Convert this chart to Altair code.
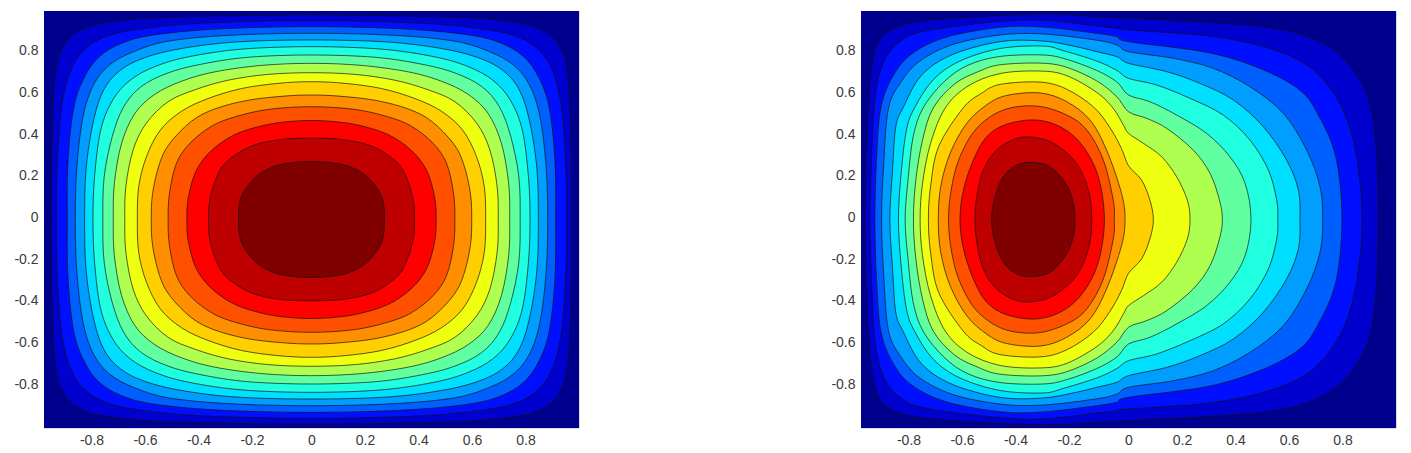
import altair as alt
import pandas as pd

# jet colours, band just inside contour k (innermost first); background is the lowest band
band_colors = ["#800000", "#bf0000", "#ff0000", "#ff5000", "#ff8f00", "#ffcf00", "#efff10",
               "#afff50", "#60ff9f", "#20ffdf", "#00dfff", "#009fff", "#0060ff", "#0010ff", "#0000cf"]
background_color = "#00008f"
tick_values = [-0.8, -0.6, -0.4, -0.2, 0, 0.2, 0.4, 0.6, 0.8]
plot_extent = [{"x": -1, "x2": 1, "y": -1, "y2": 1}]

# left panel: one quadrant of every contour (x, y), innermost first
left_quadrants = [
    [(.273,0),(.262,.11),(.208,.205),(.137,.256),(.062,.274),(0,.278)],
    [(.385,0),(.378,.109),(.342,.237),(.287,.308),(.212,.358),(.112,.384),(0,.39)],
    [(.466,0),(.46,.109),(.43,.237),(.372,.333),(.287,.407),(.187,.449),(.1,.468),(0,.475)],
    [(.536,0),(.531,.125),(.505,.269),(.455,.365),(.374,.447),(.287,.492),(.162,.528),(0,.541)],
    [(.599,0),(.594,.125),(.568,.269),(.53,.365),(.449,.471),(.362,.53),(.237,.572),(.1,.592),(0,.597)],
    [(.651,0),(.646,.157),(.617,.301),(.565,.429),(.486,.519),(.387,.58),(.262,.628),(.125,.653),(0,.661)],
    [(.698,0),(.694,.157),(.667,.333),(.618,.461),(.536,.565),(.436,.622),(.312,.668),(.162,.696),(0,.704)],
    [(.741,0),(.737,.173),(.71,.365),(.66,.509),(.586,.6),(.486,.663),(.362,.708),(.187,.739),(0,.749)],
    [(.78,0),(.775,.205),(.745,.397),(.702,.541),(.636,.638),(.536,.703),(.411,.745),(.237,.778),(0,.789)],
    [(.817,0),(.811,.205),(.788,.429),(.743,.573),(.678,.668),(.586,.733),(.461,.78),(.262,.817),(0,.829)],
    [(.848,0),(.843,.237),(.817,.461),(.78,.613),(.723,.707),(.636,.77),(.499,.817),(.287,.851),(0,.861)],
    [(.883,0),(.877,.253),(.854,.493),(.815,.645),(.755,.741),(.665,.805),(.536,.855),(.312,.883),(0,.893)],
    [(.913,0),(.91,.285),(.888,.541),(.848,.685),(.793,.781),(.71,.845),(.59,.885),(.349,.914),(0,.925)],
    [(.954,0),(.949,.301),(.93,.573),(.893,.735),(.835,.83),(.75,.885),(.63,.915),(.411,.941),(0,.954)],
    [(.973,0),(.969,.413),(.955,.72),(.92,.845),(.86,.91),(.76,.945),(.536,.97),(0,.981)],
]

# right panel: upper half of every contour, from left to right (x, y), innermost first
right_upper = [
    [(-.512,0),(-.499,.109),(-.468,.205),(-.418,.261),(-.356,.274),(-.293,.253),(-.244,.189),(-.212,.109),(-.2,0)],
    [(-.574,0),(-.567,.109),(-.543,.237),(-.493,.333),(-.418,.389),(-.343,.392),(-.269,.357),(-.194,.269),(-.15,.141),(-.137,0)],
    [(-.63,0),(-.617,.141),(-.58,.285),(-.53,.397),(-.455,.457),(-.343,.477),(-.244,.437),(-.169,.349),(-.113,.205),(-.09,0)],
    [(-.673,0),(-.661,.157),(-.63,.301),(-.568,.437),(-.468,.525),(-.343,.544),(-.231,.501),(-.156,.429),(-.094,.285),(-.057,.093),(-.053,0)],
    [(-.711,0),(-.702,.157),(-.667,.317),(-.605,.461),(-.53,.55),(-.455,.595),(-.33,.607),(-.231,.565),(-.144,.477),(-.082,.333),(-.026,.125),(-.013,0)],
    [(-.748,0),(-.74,.157),(-.71,.349),(-.618,.535),(-.55,.605),(-.48,.648),(-.33,.659),(-.231,.625),(-.131,.54),(-.069,.44),(-.026,.34),(0,.258),(.049,.189),(.08,.093),(.093,0)],
    [(-.779,0),(-.77,.173),(-.74,.365),(-.685,.535),(-.6,.64),(-.48,.7),(-.33,.712),(-.231,.69),(-.119,.61),(-.057,.533),(-.019,.453),(0,.413),(.056,.365),(.124,.301),(.18,.205),(.22,.093),(.23,0)],
    [(-.804,0),(-.795,.189),(-.77,.381),(-.73,.535),(-.65,.65),(-.56,.71),(-.48,.742),(-.33,.75),(-.231,.73),(-.119,.665),(-.044,.589),(0,.517),(.068,.485),(.143,.437),(.242,.333),(.305,.221),(.34,.093),(.351,0)],
    [(-.835,0),(-.823,.205),(-.805,.397),(-.768,.535),(-.69,.66),(-.6,.74),(-.48,.782),(-.32,.789),(-.231,.768),(-.119,.715),(-.044,.66),(0,.597),(.08,.565),(.18,.501),(.292,.413),(.379,.301),(.436,.173),(.458,0)],
    [(-.86,0),(-.85,.221),(-.83,.429),(-.8,.535),(-.73,.67),(-.63,.76),(-.48,.82),(-.32,.832),(-.244,.81),(-.119,.76),(-.044,.715),(0,.677),(.105,.645),(.23,.581),(.354,.501),(.454,.381),(.523,.237),(.554,.093),(.558,0)],
    [(-.892,0),(-.882,.237),(-.87,.445),(-.843,.535),(-.775,.69),(-.66,.79),(-.48,.853),(-.32,.856),(-.2,.83),(-.119,.805),(-.044,.781),(0,.749),(.143,.709),(.267,.653),(.392,.573),(.504,.445),(.591,.285),(.635,.141),(.641,0)],
    [(-.923,0),(-.915,.269),(-.897,.535),(-.85,.66),(-.78,.76),(-.655,.84),(-.48,.885),(-.32,.89),(-.119,.86),(-.044,.837),(0,.805),(.168,.773),(.317,.725),(.454,.637),(.579,.509),(.666,.333),(.716,.157),(.726,0)],
    [(-.948,0),(-.942,.285),(-.925,.541),(-.875,.7),(-.804,.8),(-.68,.875),(-.48,.922),(-.32,.923),(-.119,.893),(-.044,.877),(0,.853),(.3,.80),(.5,.72),(.641,.62),(.71,.5),(.775,.3),(.798,0)],
    [(-.966,0),(-.96,.301),(-.948,.573),(-.917,.749),(-.854,.853),(-.755,.905),(-.48,.95),(-.306,.955),(-.119,.928),(-.044,.917),(0,.909),(.3,.88),(.5,.83),(.641,.76),(.735,.66),(.81,.5),(.855,.28),(.873,0)],
    [(-.985,0),(-.979,.333),(-.966,.653),(-.941,.83),(-.892,.905),(-.779,.95),(-.53,.975),(-.3,.985),(-.119,.973),(0,.965),(.3,.945),(.5,.925),(.641,.89),(.76,.82),(.85,.7),(.905,.54),(.928,.3),(.933,0)],
]


def ring_from_quadrant(q):
    q1 = list(q)
    q2 = [(-x, y) for x, y in reversed(q1)][1:]
    q3 = [(-x, -y) for x, y in q1][1:]
    q4 = [(x, -y) for x, y in reversed(q1)][1:-1]
    return q1 + q2 + q3 + q4


def ring_from_upper(u):
    return list(u) + [(x, -y) for x, y in reversed(u)][1:-1]


x_axis = alt.Axis(values=tick_values, labelExpr="'' + datum.value", title=None, domain=False,
                  ticks=False, grid=False, labelFont="Liberation Sans", labelFontSize=14,
                  labelColor="#3a3a3a", labelPadding=5, labelFlush=False, labelOverlap=False,
                  labelOffset={"condition": {"test": "datum.value < 0", "value": -6}, "value": 0})
y_axis = alt.Axis(values=tick_values, labelExpr="'' + datum.value", title=None, domain=False,
                  ticks=False, grid=False, labelFont="Liberation Sans", labelFontSize=14,
                  labelColor="#3a3a3a", labelPadding=6, labelFlush=False, labelOverlap=False,
                  labelOffset=-2, minExtent=35, maxExtent=35)

x_scale = alt.Scale(domain=[-1, 1], nice=False, zero=False)
y_scale = alt.Scale(domain=[-1, 1], nice=False, zero=False)


def panel(rings):
    backdrop = (
        alt.Chart(alt.Data(values=plot_extent))
        .mark_rect(color=background_color)
        .encode(
            x=alt.X("x:Q", scale=x_scale, axis=x_axis),
            x2="x2:Q",
            y=alt.Y("y:Q", scale=y_scale, axis=y_axis),
            y2="y2:Q",
        )
    )
    layers = [backdrop]
    for k in range(len(rings) - 1, -1, -1):
        df = pd.DataFrame(rings[k], columns=["x", "y"])
        df["i"] = range(len(df))
        layers.append(
            alt.Chart(df)
            .mark_line(interpolate="cardinal-closed", fill=band_colors[k], stroke="#101010",
                       strokeWidth=0.8, strokeOpacity=0.85, clip=True)
            .encode(
                x=alt.X("x:Q", scale=x_scale, axis=x_axis),
                y=alt.Y("y:Q", scale=y_scale, axis=y_axis),
                order=alt.Order("i:Q"),
            )
        )
    return alt.layer(*layers).properties(width=535, height=417)


left = panel([ring_from_quadrant(q) for q in left_quadrants])
right = panel([ring_from_upper(u) for u in right_upper])

chart = (
    alt.hconcat(left, right, spacing=245)
    .properties(padding={"left": 0, "top": 2, "right": 0, "bottom": 0})
    .configure_view(stroke=None)
    .configure(background="white")
)
chart.save("out.html", embed_options={"renderer": "svg", "actions": False})
